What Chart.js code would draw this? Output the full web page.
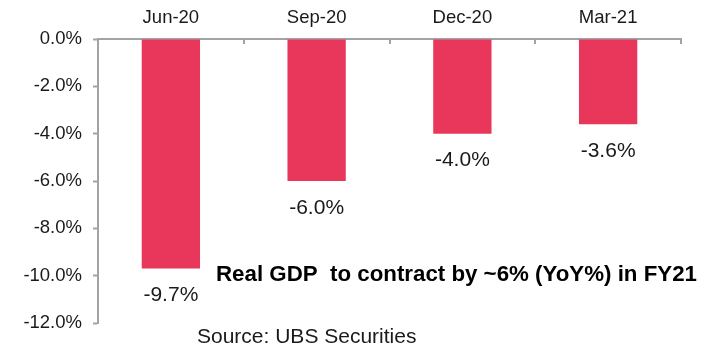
<!DOCTYPE html>
<html>
<head>
<meta charset="utf-8">
<script src="https://cdn.jsdelivr.net/npm/chart.js@4"></script>
<style>
html,body{margin:0;padding:0;background:#fff;}
#wrap{position:relative;width:701px;height:347px;}
</style>
</head>
<body>
<div id="wrap"><canvas id="gdp"></canvas></div>
<script>
const quarters = ["Jun-20", "Sep-20", "Dec-20", "Mar-21"];
const growth = [-9.7, -6.0, -4.0, -3.6];
const yTicks = [0, -2, -4, -6, -8, -10, -12];
const headline = "Real GDP  to contract by ~6% (YoY%) in FY21";
const source = "Source: UBS Securities";

const axisGrey = "#a3a3a3";
const barRed = "#e8375a";
const fontFamily = "'Liberation Sans', Arial, sans-serif";

// value labels under each bar, category ticks pointing down, and the two captions
const extras = {
  id: "extras",
  afterDatasetsDraw(chart) {
    const ctx = chart.ctx;
    const area = chart.chartArea;
    const meta = chart.getDatasetMeta(0);
    ctx.save();
    ctx.fillStyle = "#1a1a1a";
    ctx.font = "21px " + fontFamily;
    ctx.textAlign = "center";
    ctx.textBaseline = "middle";
    meta.data.forEach((bar, i) => {
      ctx.fillText(growth[i].toFixed(1) + "%", bar.x, bar.y + 27);
    });

    // category boundary ticks on the top axis
    const n = quarters.length;
    const step = (area.right - area.left) / n;
    ctx.strokeStyle = axisGrey;
    ctx.lineWidth = 2;
    for (let i = 1; i <= n; i++) {
      const x = Math.round(area.left + step * i);
      ctx.beginPath();
      ctx.moveTo(x, area.top);
      ctx.lineTo(x, area.top + 5);
      ctx.stroke();
    }

    ctx.textAlign = "left";
    ctx.fillStyle = "#000";
    ctx.font = "bold 22.3px " + fontFamily;
    ctx.fillText(headline, 216, 275);
    ctx.fillStyle = "#1a1a1a";
    ctx.font = "21px " + fontFamily;
    ctx.fillText(source, 197, 337);
    ctx.restore();
  }
};

new Chart(document.getElementById("gdp"), {
  type: "bar",
  data: {
    labels: quarters,
    datasets: [{
      data: growth,
      backgroundColor: barRed,
      barPercentage: 0.4,
      categoryPercentage: 1
    }]
  },
  options: {
    responsive: true,
    maintainAspectRatio: false,
    animation: false,
    layout: { padding: { left: 0, top: 0, right: 20, bottom: 24 } },
    plugins: {
      legend: { display: false },
      tooltip: { enabled: false }
    },
    scales: {
      x: {
        position: "top",
        afterFit(scale) { scale.height = 39; },
        grid: { display: true, drawOnChartArea: false, drawTicks: false, color: axisGrey },
        border: { display: true, color: axisGrey, width: 2 },
        ticks: {
          padding: 10,
          color: "#1a1a1a",
          font: { size: 18.5, family: fontFamily }
        }
      },
      y: {
        min: -12,
        max: 0,
        afterFit(scale) { scale.width = 98; },
        afterBuildTicks(scale) { scale.ticks = yTicks.map(v => ({ value: v })); },
        grid: { drawOnChartArea: false, drawTicks: true, tickLength: 5, tickWidth: 2, color: axisGrey },
        border: { display: true, color: axisGrey, width: 2 },
        ticks: {
          padding: 11,
          color: "#1a1a1a",
          font: { size: 18.5, family: fontFamily },
          callback: v => v.toFixed(1) + "%"
        }
      }
    }
  },
  plugins: [extras]
});
</script>
</body>
</html>
